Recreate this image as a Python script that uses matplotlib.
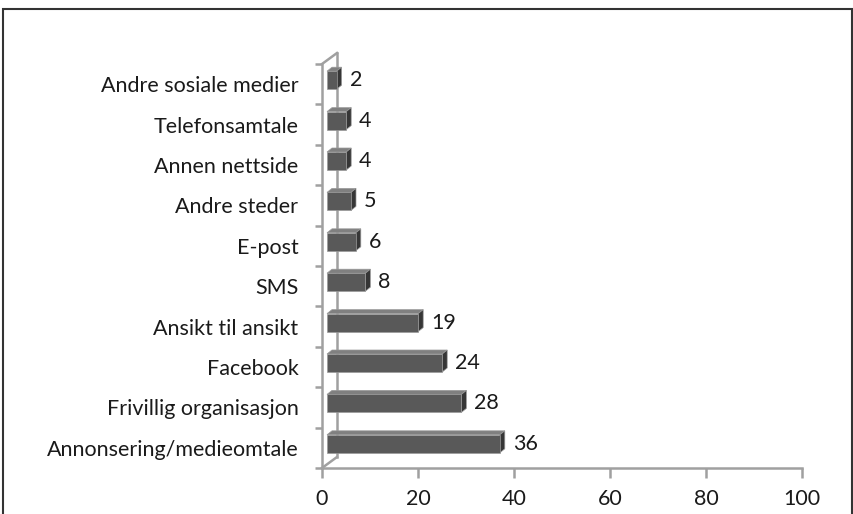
import matplotlib
matplotlib.use("Agg")
import matplotlib.pyplot as plt
from matplotlib.patches import Polygon, Rectangle
from matplotlib.lines import Line2D

# Data (bottom to top)
kategorier = ["Annonsering/medieomtale", "Frivillig organisasjon", "Facebook",
              "Ansikt til ansikt", "SMS", "E-post", "Andre steder",
              "Annen nettside", "Telefonsamtale", "Andre sosiale medier"]
verdier = [36, 28, 24, 19, 8, 6, 5, 4, 4, 2]
xticks = [0, 20, 40, 60, 80, 100]

plt.rcParams['font.family'] = ['Lato', 'DejaVu Sans']

W, H = 854, 514
fig = plt.figure(figsize=(W / 100, H / 100), dpi=100)
ax = fig.add_axes([322 / W, 1 - 468 / H, (802 - 322) / W, (468 - 64) / H])

ax.set_xlim(0, 100)
ax.set_ylim(-0.5, 9.5)

# piksler -> dataenheter
px_x = 100 / 480
px_y = 10 / 404

x0 = 5 * px_x          # bar starter litt inn fra aksen
h = 18 * px_y          # barhoyde
ddx, ddy = 5 * px_x, 4 * px_y   # 3D-dybde
front = "#595959"
topp = "#808080"
side = "#363636"
kant = "#9a9a9a"
fs = 15.5

for i, v in enumerate(verdier):
    yc = i + 4 * px_y
    y0, y1 = yc - h / 2, yc + h / 2
    x1 = x0 + v
    ax.add_patch(Polygon([(x0, y1), (x1, y1), (x1 + ddx, y1 + ddy), (x0 + ddx, y1 + ddy)],
                         closed=True, fc=topp, ec=kant, lw=0.5, zorder=3))
    ax.add_patch(Polygon([(x1, y0), (x1 + ddx, y0 + ddy), (x1 + ddx, y1 + ddy), (x1, y1)],
                         closed=True, fc=side, ec=kant, lw=0.5, zorder=3))
    ax.add_patch(Rectangle((x0, y0), v, h, fc=front, ec=kant, lw=0.5, zorder=4))
    ax.text(x1 + ddx + 8 * px_x, yc, str(v), va="center", ha="left",
            fontsize=fs, color="#1a1a1a")

# akser
akse = "#a0a0a0"
for s in ["top", "right"]:
    ax.spines[s].set_visible(False)
for s in ["left", "bottom"]:
    ax.spines[s].set_color(akse)
    ax.spines[s].set_linewidth(1.8)

bx, by = 15 * px_x, 11 * px_y
ax.add_line(Line2D([bx, bx], [-0.5 + by, 9.5 + by], color=akse, lw=1.8, clip_on=False))
ax.add_line(Line2D([0, bx], [-0.5, -0.5 + by], color=akse, lw=1.8, clip_on=False))
ax.add_line(Line2D([0, bx], [9.5, 9.5 + by], color=akse, lw=1.8, clip_on=False))

ax.set_xticks(xticks)
ax.set_xticklabels([str(t) for t in xticks])
ax.set_yticks([k - 0.5 for k in range(11)], minor=False)
ax.set_yticklabels([])
ax.set_yticks(range(10), minor=True)
ax.set_yticklabels(kategorier, minor=True)
ax.tick_params(axis="y", which="major", length=5, width=1.8, color=akse, direction="out")
ax.tick_params(axis="y", which="minor", length=0, pad=17, labelsize=fs, labelcolor="#1a1a1a")
ax.tick_params(axis="x", length=7, width=1.8, color=akse, pad=8, labelsize=fs, labelcolor="#1a1a1a")

# ramme rundt figuren
fig.patches.append(Rectangle((3 / W, -0.05), 849 / W, 1.05 - 9 / H, transform=fig.transFigure,
                             fill=False, ec="#333333", lw=1.5))

fig.savefig("out.png", dpi=100)
